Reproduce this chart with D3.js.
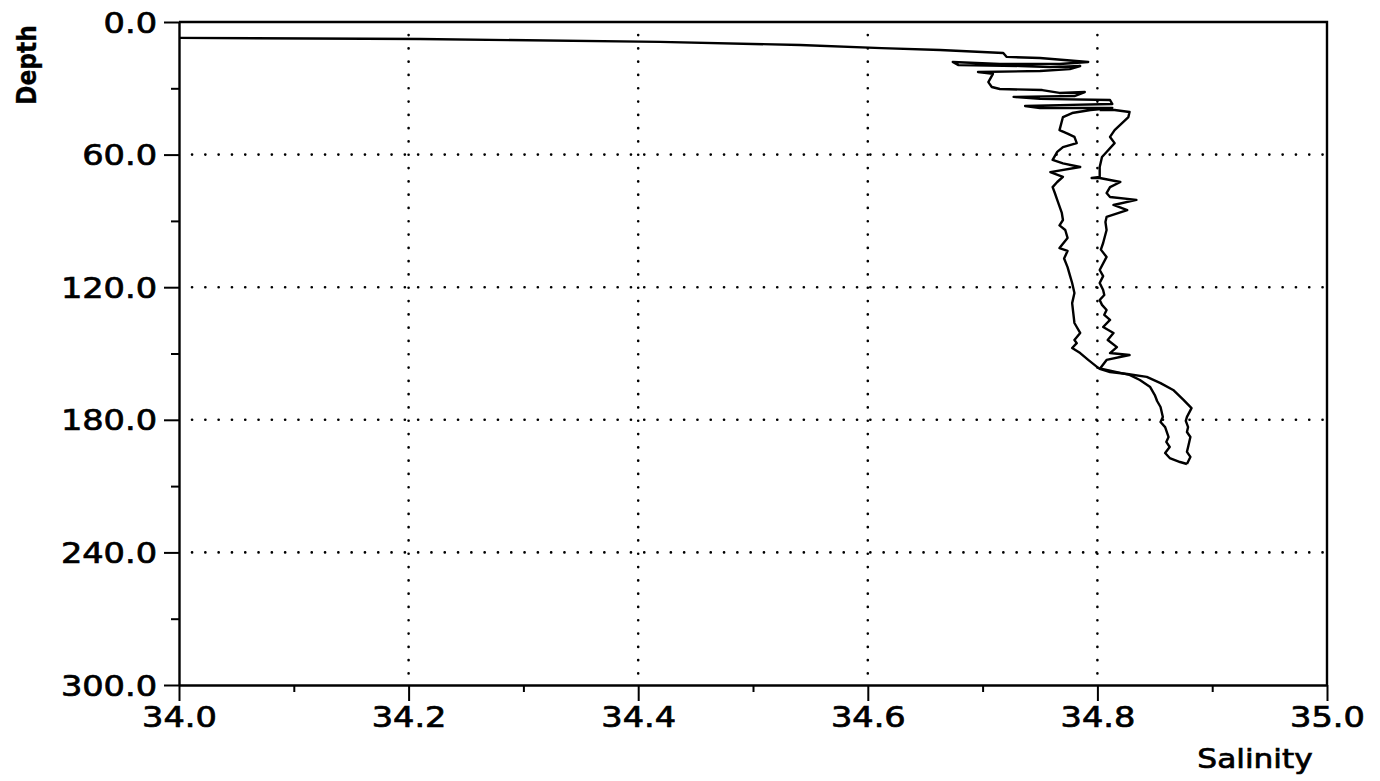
<!DOCTYPE html>
<html>
    <head>
        <script src="https://d3js.org/d3.v7.min.js"></script>
        <style>
            body { margin: 0; background: #fff; }
            text { font-family: "DejaVu Sans", sans-serif; fill: #000; stroke: #000; stroke-width: 0.7px; }
        </style>
    </head>
    <body>
        <svg width="1380" height="781"></svg>

        <script>
            "use strict";

            // downcast: surface -> bottom
            var downSalinity = [34.000, 34.210, 34.419, 34.541, 34.612, 34.663, 34.718, 34.721, 34.750, 34.792,
                34.767, 34.715, 34.674, 34.679, 34.733, 34.759, 34.785, 34.776, 34.750, 34.696,
                34.709, 34.705, 34.708, 34.715, 34.752, 34.767, 34.789, 34.780, 34.727, 34.750,
                34.811, 34.813, 34.767, 34.737, 34.750, 34.813, 34.794, 34.778, 34.770, 34.767,
                34.774, 34.780, 34.782, 34.770, 34.765, 34.761, 34.770, 34.785, 34.759, 34.770,
                34.765, 34.761, 34.763, 34.765, 34.769, 34.770, 34.767, 34.772, 34.774, 34.767,
                34.774, 34.771, 34.774, 34.776, 34.778, 34.780, 34.778, 34.779, 34.780, 34.782,
                34.785, 34.780, 34.782, 34.778, 34.785, 34.792, 34.801, 34.817, 34.828, 34.837,
                34.846, 34.850, 34.852, 34.855, 34.857, 34.855, 34.859, 34.862, 34.860, 34.863,
                34.859, 34.863, 34.872, 34.878];
            var downDepth = [7.2, 7.7, 9.0, 10.4, 11.8, 12.7, 14.0, 15.8, 16.3, 18.1,
                19.0, 19.0, 18.1, 19.5, 19.9, 20.4, 19.9, 21.3, 22.2, 22.6,
                23.5, 27.2, 29.4, 30.3, 30.8, 32.1, 31.7, 33.5, 33.9, 34.8,
                35.3, 37.1, 37.6, 38.0, 38.9, 38.9, 39.8, 41.2, 43.0, 48.9,
                50.5, 52.0, 54.8, 56.6, 58.8, 62.4, 64.0, 65.6, 67.9, 70.1,
                72.4, 74.7, 77.5, 80.5, 86.4, 89.6, 92.0, 94.1, 97.7, 102.3,
                103.6, 107.0, 110.9, 114.5, 118.1, 122.6, 127.2, 131.7, 136.2, 138.0,
                140.7, 143.9, 145.3, 147.5, 149.8, 152.9, 156.6, 158.4, 159.7, 162.0,
                165.2, 168.8, 171.5, 174.2, 178.7, 181.0, 183.3, 187.8, 190.0, 192.3,
                195.0, 197.3, 199.1, 200.0];

            // upcast: bottom -> surface
            var upSalinity = [34.878, 34.881, 34.878, 34.879, 34.881, 34.878, 34.879, 34.877, 34.878, 34.882,
                34.875, 34.866, 34.855, 34.843, 34.826, 34.811, 34.802, 34.808, 34.828, 34.811,
                34.817, 34.809, 34.814, 34.805, 34.811, 34.806, 34.808, 34.804, 34.802, 34.806,
                34.805, 34.802, 34.805, 34.802, 34.808, 34.803, 34.805, 34.808, 34.807, 34.808,
                34.826, 34.814, 34.834, 34.811, 34.808, 34.811, 34.820, 34.802, 34.795, 34.802,
                34.802, 34.804, 34.808, 34.815, 34.811, 34.815, 34.827, 34.828, 34.815, 34.802];
            var upDepth = [200.0, 196.8, 194.5, 192.3, 187.8, 185.5, 183.3, 180.5, 178.7, 174.7,
                171.0, 166.5, 163.4, 160.6, 159.3, 158.4, 157.0, 152.9, 150.7, 149.8,
                147.1, 143.9, 140.7, 138.0, 134.8, 132.5, 130.3, 128.0, 125.8, 123.5,
                121.3, 118.1, 115.0, 112.2, 106.3, 103.0, 100.0, 94.1, 90.5, 88.2,
                85.1, 82.8, 80.5, 79.2, 77.4, 74.7, 72.4, 70.6, 70.6, 70.1,
                65.6, 61.1, 58.8, 54.8, 52.0, 48.9, 43.0, 40.7, 39.8, 39.8];

            var salinityTicks = [34.0, 34.2, 34.4, 34.6, 34.8, 35.0],
                salinityMinor = [34.1, 34.3, 34.5, 34.7, 34.9],
                depthTicks = [0, 60, 120, 180, 240, 300],
                depthMinor = [30, 90, 150, 210, 270];

            var svg = d3.select("svg"),
                plotLeft = 179, plotRight = 1327, plotTop = 22, plotBottom = 685;

            var x = d3.scaleLinear().domain([34, 35]).range([plotLeft, plotRight]),
                y = d3.scaleLinear().domain([0, 300]).range([plotTop, plotBottom]);

            svg.append("defs").append("clipPath").attr("id", "plot")
                .append("rect").attr("x", plotLeft).attr("y", plotTop)
                .attr("width", plotRight - plotLeft).attr("height", plotBottom - plotTop);

            // dotted grid
            var grid = svg.append("g")
                .attr("stroke", "#000").attr("stroke-width", 2.6)
                .attr("stroke-linecap", "round").attr("stroke-dasharray", "0.1 13.2");

            grid.selectAll(".gx").data(salinityTicks.slice(1, -1)).enter().append("line")
                .attr("x1", d => x(d)).attr("x2", d => x(d))
                .attr("y1", plotTop + 13).attr("y2", plotBottom);

            grid.selectAll(".gy").data(depthTicks.slice(1, -1)).enter().append("line")
                .attr("x1", plotLeft + 13).attr("x2", plotRight)
                .attr("y1", d => y(d)).attr("y2", d => y(d));

            // profile traces
            var line = d3.line().x(d => x(d[0])).y(d => y(d[1]));
            var casts = [
                d3.zip(downSalinity, downDepth),
                d3.zip(upSalinity, upDepth)
            ];
            svg.append("g").attr("clip-path", "url(#plot)")
                .selectAll("path").data(casts).enter().append("path")
                .attr("d", line)
                .attr("fill", "none").attr("stroke", "#000")
                .attr("stroke-width", 2.4).attr("stroke-linejoin", "round");

            // frame (top, right)
            svg.append("path")
                .attr("d", "M" + plotLeft + "," + plotTop + "H" + plotRight + "V" + plotBottom)
                .attr("fill", "none").attr("stroke", "#000").attr("stroke-width", 2.4);

            var sx = 1.2;

            // left axis
            var yAxis = svg.append("g").attr("transform", "translate(" + plotLeft + ",0)")
                .call(d3.axisLeft(y).tickValues(depthTicks).tickFormat(d3.format(".1f"))
                    .tickSize(15).tickSizeOuter(0).tickPadding(7));
            svg.append("g").attr("transform", "translate(" + plotLeft + ",0)")
                .call(d3.axisLeft(y).tickValues(depthMinor).tickFormat("").tickSize(8).tickSizeOuter(0))
                .call(g => g.select(".domain").remove());

            // bottom axis
            var xAxis = svg.append("g").attr("transform", "translate(0," + plotBottom + ")")
                .call(d3.axisBottom(x).tickValues(salinityTicks).tickFormat(d3.format(".1f"))
                    .tickSize(16).tickSizeOuter(0).tickPadding(6));
            svg.append("g").attr("transform", "translate(0," + plotBottom + ")")
                .call(d3.axisBottom(x).tickValues(salinityMinor).tickFormat("").tickSize(7).tickSizeOuter(0))
                .call(g => g.select(".domain").remove());

            svg.selectAll(".domain").attr("stroke", "#000").attr("stroke-width", 2.4);
            svg.selectAll(".tick line").attr("stroke", "#000").attr("stroke-width", 2);

            yAxis.selectAll("text")
                .attr("font-family", null).attr("font-size", 28)
                .attr("x", -22 / sx).attr("dy", "0.36em")
                .attr("transform", "scale(" + sx + ",1)");

            xAxis.selectAll("text")
                .attr("font-family", null).attr("font-size", 28)
                .attr("transform", "scale(" + sx + ",1)");

            // axis titles
            svg.append("text")
                .attr("transform", "translate(1255,768) scale(" + sx + ",1)")
                .attr("text-anchor", "middle").attr("font-size", 26)
                .text("Salinity");

            svg.append("text")
                .attr("transform", "translate(36,65) rotate(-90) scale(0.9,1)")
                .attr("text-anchor", "middle").attr("font-size", 26).attr("font-weight", "bold")
                .style("stroke-width", "0.3px")
                .text("Depth");
        </script>
    </body>
</html>
